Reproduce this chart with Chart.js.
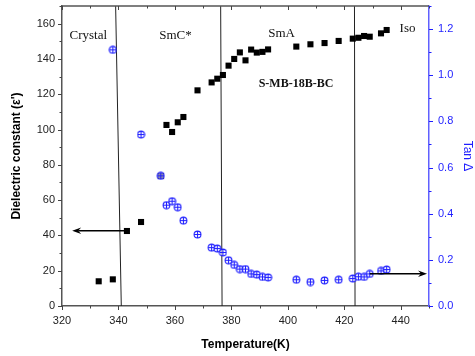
<!DOCTYPE html>
<html>
<head>
<meta charset="utf-8">
<script src="https://cdn.jsdelivr.net/npm/chart.js@4.4.1/dist/chart.umd.min.js"></script>
<style>
  html, body { margin: 0; padding: 0; background: #fff; }
  #wrap { width: 475px; height: 356px; }
</style>
</head>
<body>
<div id="wrap"><canvas id="c"></canvas></div>
<script>
// temperature (K) and dielectric constant
var epsT = [333, 338, 343, 348, 355, 357, 359, 361, 363, 368, 373, 375, 377, 379, 381, 383, 385, 387, 389, 391, 393, 403, 408, 413, 418, 423, 425, 427, 429, 433, 435];
var epsV = [14, 15.1, 42.5, 47.6, 73.7, 102.6, 98.6, 104.1, 107.1, 122.2, 126.7, 128.8, 130.9, 136.2, 140, 143.7, 139.2, 145.3, 143.6, 144, 145.4, 147, 148.3, 149, 150.2, 151.5, 152, 153, 152.6, 154.5, 156.4];

// temperature (K) and tan delta
var tanT = [338, 348, 355, 357, 359, 361, 363, 368, 373, 375, 377, 379, 381, 383, 385, 387, 389, 391, 393, 403, 408, 413, 418, 423, 425, 427, 429, 433, 435];
var tanV = [1.11, 0.743, 0.564, 0.437, 0.454, 0.428, 0.370, 0.310, 0.253, 0.249, 0.232, 0.198, 0.178, 0.160, 0.160, 0.139, 0.136, 0.126, 0.124, 0.114, 0.104, 0.111, 0.114, 0.119, 0.127, 0.126, 0.139, 0.152, 0.158];

// phase boundaries: [T at top, T at bottom]
var boundaries = [[339.0, 341.0], [376.2, 376.7], [423.6, 423.8]];

var phaseLabels = [
  { text: 'Crystal', t: 329.3, v: 153.4, bold: false },
  { text: 'SmC*', t: 360.2, v: 153.4, bold: false },
  { text: 'SmA', t: 397.8, v: 154.5, bold: false },
  { text: 'Iso', t: 442.4, v: 157.3, bold: false },
  { text: 'S-MB-18B-BC', t: 402.9, v: 125.6, bold: true }
];

var blue = '#1f1fff';

function pts(xs, ys) {
  return xs.map(function (x, i) { return { x: x, y: ys[i] }; });
}

// circle with a cross inside, used for the tan delta markers
function crossCircle() {
  var cv = document.createElement('canvas');
  cv.width = 9; cv.height = 9;
  var g = cv.getContext('2d');
  g.fillStyle = 'rgba(255,255,255,0.6)';
  g.strokeStyle = blue;
  g.lineWidth = 1.1;
  g.beginPath();
  g.arc(4.5, 4.5, 3.4, 0, Math.PI * 2);
  g.fill();
  g.stroke();
  g.beginPath();
  g.moveTo(4.5, 1); g.lineTo(4.5, 8);
  g.moveTo(1, 4.5); g.lineTo(8, 4.5);
  g.stroke();
  return cv;
}

var datasets = [
  {
    data: pts(tanT, tanV), yAxisID: 'y1', order: 0,
    pointStyle: crossCircle(), pointRadius: 4, showLine: false
  },
  {
    data: pts(epsT, epsV), yAxisID: 'y', order: 1,
    pointStyle: 'rect', pointRadius: 4.3, backgroundColor: '#000', borderColor: '#000',
    borderWidth: 0, showLine: false
  }
];
boundaries.forEach(function (b) {
  datasets.push({
    data: [{ x: b[0], y: 170 }, { x: b[1], y: 0 }], yAxisID: 'y', order: 2,
    showLine: true, pointRadius: 0, borderColor: '#222', borderWidth: 1
  });
});

function drawArrow(ctx, x1, y1, x2, y2) {
  var a = Math.atan2(y2 - y1, x2 - x1);
  ctx.save();
  ctx.strokeStyle = '#000';
  ctx.fillStyle = '#000';
  ctx.lineWidth = 1.5;
  ctx.beginPath();
  ctx.moveTo(x1, y1);
  ctx.lineTo(x2 - 6 * Math.cos(a), y2 - 6 * Math.sin(a));
  ctx.stroke();
  ctx.beginPath();
  ctx.moveTo(x2, y2);
  ctx.lineTo(x2 - 9 * Math.cos(a) + 3.2 * Math.sin(a), y2 - 9 * Math.sin(a) - 3.2 * Math.cos(a));
  ctx.lineTo(x2 - 6 * Math.cos(a), y2 - 6 * Math.sin(a));
  ctx.lineTo(x2 - 9 * Math.cos(a) - 3.2 * Math.sin(a), y2 - 9 * Math.sin(a) + 3.2 * Math.cos(a));
  ctx.closePath();
  ctx.fill();
  ctx.restore();
}

var extras = {
  id: 'extras',
  afterDatasetsDraw: function (chart) {
    // top border of the plot frame
    var a = chart.chartArea, ctx = chart.ctx;
    ctx.save();
    ctx.strokeStyle = '#555';
    ctx.lineWidth = 1.5;
    ctx.beginPath();
    ctx.moveTo(a.left, a.top); ctx.lineTo(a.right, a.top);
    ctx.stroke();
    ctx.restore();
  },
  afterDraw: function (chart) {
    var ctx = chart.ctx, a = chart.chartArea;
    var sx = chart.scales.x, sy = chart.scales.y, sy1 = chart.scales.y1;
    ctx.save();
    ctx.lineWidth = 1;

    // x ticks: outward at the bottom, inward at the top
    ctx.strokeStyle = '#444';
    for (var t = 320; t <= 450; t += 10) {
      var px = Math.round(sx.getPixelForValue(t)) + 0.5;
      var len = t % 20 === 0 ? 4 : 2.5;
      ctx.beginPath();
      ctx.moveTo(px, a.bottom); ctx.lineTo(px, a.bottom + len);
      ctx.moveTo(px, a.top); ctx.lineTo(px, a.top + len);
      ctx.stroke();
    }
    // left ticks
    for (var v = 0; v <= 170; v += 10) {
      var py = Math.round(sy.getPixelForValue(v)) + 0.5;
      ctx.beginPath();
      ctx.moveTo(a.left, py); ctx.lineTo(a.left - (v % 20 === 0 ? 4 : 2.5), py);
      ctx.stroke();
    }
    // right ticks
    ctx.strokeStyle = blue;
    for (var k = 0; k <= 13; k++) {
      var py1 = Math.round(sy1.getPixelForValue(k / 10)) + 0.5;
      ctx.beginPath();
      ctx.moveTo(a.right, py1); ctx.lineTo(a.right + (k % 2 === 0 ? 4 : 2.5), py1);
      ctx.stroke();
    }

    // arrows pointing to each series' axis
    drawArrow(ctx, sx.getPixelForValue(342.8), sy.getPixelForValue(42.6),
      sx.getPixelForValue(323.6), sy.getPixelForValue(42.6));
    drawArrow(ctx, sx.getPixelForValue(429), sy1.getPixelForValue(0.14),
      sx.getPixelForValue(449.3), sy1.getPixelForValue(0.14));

    // phase names and sample label
    ctx.fillStyle = '#111';
    ctx.textAlign = 'center';
    ctx.textBaseline = 'middle';
    phaseLabels.forEach(function (p) {
      ctx.font = (p.bold ? 'bold 12px' : '13px') + ' "Liberation Serif", "Times New Roman", serif';
      ctx.fillText(p.text, sx.getPixelForValue(p.t), sy.getPixelForValue(p.v));
    });
    ctx.restore();
  }
};

// fixed box sizes, no extra room for edge labels
function fixBox(w, h) {
  return function (s) {
    if (w) s.width = w;
    if (h) s.height = h;
    s.paddingTop = 0; s.paddingBottom = 0; s.paddingLeft = 0; s.paddingRight = 0;
  };
}

var tickFont = { family: 'Liberation Sans, Arial, sans-serif', size: 11 };
var titleFont = { family: 'Liberation Sans, Arial, sans-serif', size: 12, weight: 'bold' };

new Chart(document.getElementById('c'), {
  type: 'scatter',
  data: { datasets: datasets },
  options: {
    responsive: true,
    maintainAspectRatio: false,
    animation: false,
    layout: { padding: { top: 6, left: 0, right: 0, bottom: 0 } },
    plugins: { legend: { display: false }, tooltip: { enabled: false } },
    scales: {
      x: {
        type: 'linear', min: 320, max: 450,
        grid: { display: false, drawTicks: false },
        border: { display: true, color: '#555', width: 1.5 },
        ticks: { stepSize: 20, includeBounds: false, padding: 8, color: '#222', font: tickFont },
        title: { display: true, text: 'Temperature(K)', color: '#000', font: titleFont, padding: { top: 2 } },
        afterFit: fixBox(0, 50)
      },
      y: {
        position: 'left', min: 0, max: 170,
        grid: { display: false, drawTicks: false },
        border: { display: true, color: '#555', width: 1.5 },
        ticks: { stepSize: 20, includeBounds: false, padding: 7, color: '#222', font: tickFont },
        title: { display: true, text: 'Dielectric constant (\u03b5\')', color: '#000', font: titleFont, padding: { top: 9, bottom: 2 } },
        afterFit: fixBox(62, 0)
      },
      y1: {
        position: 'right', min: 0, max: 1.3,
        grid: { display: false, drawTicks: false },
        border: { display: true, color: '#6060ff', width: 1.5 },
        ticks: {
          stepSize: 0.2, includeBounds: false, padding: 9, color: blue, font: tickFont,
          callback: function (v) { return v.toFixed(1); }
        },
        title: { display: true, text: 'Tan \u0394', color: blue, padding: { top: 0, bottom: 0 }, font: { family: 'Liberation Sans, Arial, sans-serif', size: 12 } },
        afterFit: fixBox(46, 0)
      }
    }
  },
  plugins: [extras]
});
</script>
</body>
</html>
